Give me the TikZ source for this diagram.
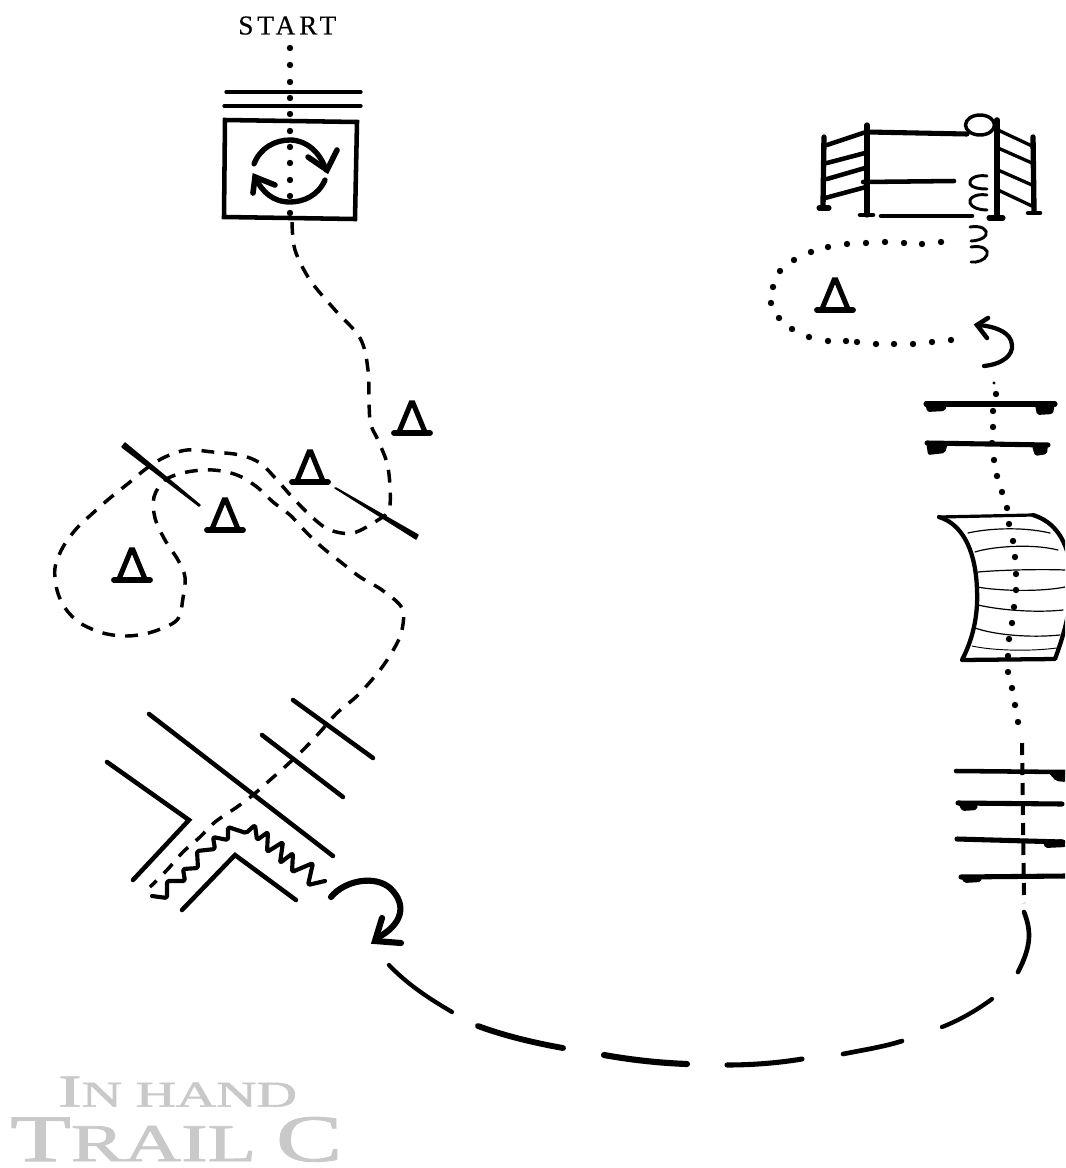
\documentclass[tikz,border=0pt]{standalone}
\usepackage{graphicx}
\usepackage{fontspec}
\setmainfont{Liberation Serif}
\newfontfamily\startfont[LetterSpace=14,FakeBold=.3]{Liberation Serif}
\newfontfamily\titlefont[FakeBold=1.4]{Liberation Serif}
\definecolor{titlegray}{HTML}{C9C9C9}
\tikzset{
  ink/.style={draw=black,line cap=round,line join=round},
  thin bar/.style={ink,line width=2.5pt},
  mid bar/.style={ink,line width=3.4pt},
  heavy bar/.style={ink,line width=3.8pt},
  trail/.style={draw=black,line width=2.6pt,dash pattern=on 9.6pt off 7.6pt},
  sweep/.style={ink,line width=4.6pt},
  plank/.style={ink,line width=.9pt},
  blob/.style={fill=black,rounded corners=1.5pt},
  trailcone/.pic={
    \draw[ink,line width=4.4pt] (-18,0) -- (18,0);
    \draw[ink,line width=3.8pt,line join=miter] (-13,-1) -- (-1,-30) -- (1,-30) -- (13,-1);
  }
}
\newcommand{\dotrun}[1]{\foreach \p in {#1} {\fill[black] \p circle[radius=3.2];}}
\begin{document}
\begin{tikzpicture}[x=.75pt,y=-.75pt]
\useasboundingbox (0,0) rectangle (1065,1168);
\clip (0,0) rectangle (1065,1168);

% title texts
\node[anchor=south west,inner sep=0pt] (starttext) at (238,35) {\startfont\fontsize{20.5pt}{21pt}\selectfont START};
\node[anchor=south west,inner sep=0pt,text=titlegray] (inhand) at (58,1107)
  {\resizebox{179pt}{22.5pt}{\titlefont\fontsize{34pt}{36pt}\selectfont I\fontsize{27pt}{30pt}\selectfont N HAND}};
\node[anchor=south west,inner sep=0pt,text=titlegray] (trailc) at (10,1162)
  {\resizebox{249pt}{33pt}{\titlefont\fontsize{50pt}{52pt}\selectfont T\fontsize{40pt}{44pt}\selectfont RAIL \fontsize{50pt}{52pt}\selectfont C}};

% start box
\draw[thin bar] (226,92) -- (361,92);
\draw[thin bar] (224,106) -- (361,106);
\draw[mid bar,line join=miter] (225,120) -- (357,122) -- (355,219) -- (224,217) -- cycle;
\draw[ink,line width=4pt] (254,164) .. controls (260,148) and (275,140) .. (290,140) .. controls (306,140) and (320,152) .. (326,170);
\draw[ink,line width=4.2pt,line join=miter] (308,157) -- (327,170) -- (337,150);
\draw[ink,line width=4pt] (325,180) .. controls (318,196) and (303,202) .. (290,202) .. controls (273,202) and (262,192) .. (255,177);
\draw[ink,line width=4.2pt,line join=miter] (275,185) -- (255,177) -- (253,193);
\dotrun{(290,48),(290,65),(290,82),(290,98),(290,114),(290,131),(290,147),(290,163),(290,180),(290,196),(290,213)}

% trail from start through the cones
\draw[trail] plot[smooth,tension=.55] coordinates {
 (292,222) (295,250) (310,280) (335,310) (360,338) (368,370) (370,420) (378,440) (387,463) (390,487) (389,510)
 (378,520) (353,533) (330,530) (313,518) (293,498) (277,480) (260,463) (240,455) (213,452) (187,450) (165,457)
 (147,468) (130,482) (110,498) (93,513) (77,528) (63,547) (55,568) (57,590) (65,608) (80,623) (103,633) (127,636)
 (152,632) (177,620) (183,598) (185,577) (178,560) (165,540) (155,518) (154,497) (165,480) (187,472) (213,470)
 (237,475) (257,487) (273,502) (290,515) (307,533) (323,548) (342,563) (360,577) (382,590) (402,608) (402,630)
 (395,647) (380,670) (358,695) (337,713) (320,732) (303,750) (287,765) (270,780) (253,795) (237,807) (215,822)
 (200,837) (183,852) (167,870) (150,887)};

% cones
\pic at (412,433) {trailcone};
\pic at (310,482) {trailcone};
\pic at (225,530) {trailcone};
\pic at (132,580) {trailcone};
\pic at (835,310) {trailcone};

% slanted gate rails by the cones
\draw[ink,line width=1.1pt,fill=black] (122,447) -- (125,443) -- (200,505) -- (199,506) -- cycle;
\draw[ink,line width=1.1pt,fill=black] (335,488) -- (336,488) -- (418,535) -- (416,539) -- cycle;

% poles and chute
\draw[mid bar] (293,700) -- (373,758);
\draw[mid bar] (262,735) -- (343,797);
\draw[mid bar] (149,714) -- (333,856);
\draw[mid bar,line join=miter] (107,762) -- (189,820) -- (133,880);
\draw[mid bar,line join=miter] (182,910) -- (235,855) -- (296,900);
\draw[ink,line width=3.1pt,rounded corners=1.2pt] (152,896) -- (167,898) -- (167,881) -- (185,881) -- (183,869) -- (198,868)
 -- (197,851) -- (215,849) -- (213,837) -- (228,840) -- (228,827) -- (246,833) -- (255,825) -- (257,840) -- (268,832)
 -- (267,852) -- (283,842) -- (280,863) -- (293,853) -- (292,872) -- (313,863) -- (308,885) -- (325,881);

% turning arrow
\draw[sweep] (331,897) .. controls (345,880) and (375,875) .. (390,888) .. controls (408,905) and (402,925) .. (377,938);
\draw[sweep,line join=miter] (382,918) -- (375,941) -- (401,943);

% long sweeping dashes
\draw[ink,line width=3.2pt] (389,965) .. controls (408,985) and (430,999) .. (452,1012);
\draw[ink,line width=4.4pt] (478,1026) .. controls (505,1036) and (535,1043) .. (563,1048);
\draw[ink,line width=4.6pt] (604,1055) .. controls (632,1060) and (660,1063) .. (687,1064);
\draw[ink,line width=3.8pt] (727,1065) .. controls (752,1065) and (778,1063) .. (802,1059);
\draw[ink,line width=3.5pt] (843,1054) .. controls (863,1050) and (883,1047) .. (902,1041);
\draw[ink,line width=3.2pt] (942,1027) .. controls (960,1020) and (977,1010) .. (992,999);
\draw[ink,line width=3.5pt] (1024,912) .. controls (1031,930) and (1032,945) .. (1018,972);

% right hand rails with dashes
\draw[trail,line width=3pt,dash pattern=on 9pt off 6pt] (1022,743) -- (1024,903);
\draw[mid bar] (956,771) -- (1065,772);
\fill[blob] (1047,771) -- (1066,770) -- (1066,782) -- (1056,781) -- cycle;
\draw[heavy bar] (958,803) -- (1062,804);
\fill[blob] (957,801) -- (978,801) -- (977,810) -- (962,811) -- cycle;
\draw[heavy bar] (957,839) -- (1063,842);
\fill[blob] (1043,841) -- (1063,839) -- (1066,847) -- (1045,848) -- cycle;
\draw[heavy bar] (961,877) -- (1065,876);
\fill[blob] (960,875) -- (982,875) -- (981,882) -- (964,883) -- cycle;

% hurdles on the dotted trail
\draw[heavy bar] (926,404) -- (1055,404);
\fill[blob] (925,401) -- (948,401) -- (945,411) -- (927,412) -- cycle;
\fill[blob] (1035,405) -- (1055,403) -- (1053,414) -- (1037,415) -- cycle;
\draw[heavy bar] (927,443) -- (1048,445);
\fill[blob] (926,441) -- (948,443) -- (945,453) -- (928,455) -- cycle;
\fill[blob] (1032,446) -- (1048,444) -- (1047,454) -- (1035,456) -- cycle;

% bridge
\draw[plank] (968,533) .. controls (985,529) and (1020,526) .. (1050,533);
\draw[plank] (975,552) .. controls (990,547) and (1030,543) .. (1058,550);
\draw[plank] (978,572) .. controls (1000,570) and (1040,569) .. (1065,570);
\draw[plank] (977,587) .. controls (1000,591) and (1040,592) .. (1065,587);
\draw[plank] (978,605) .. controls (1000,610) and (1035,613) .. (1063,610);
\draw[plank] (975,628) .. controls (995,635) and (1030,638) .. (1060,635);
\draw[plank,line width=.7pt] (972,646) .. controls (990,650) and (1025,652) .. (1057,648);
\draw[ink,line width=2.4pt] (939,517) -- (1033,515);
\draw[ink,line width=3.2pt] (1033,515) .. controls (1055,522) and (1068,540) .. (1072,575) .. controls (1072,610) and (1062,640) .. (1055,659) -- (962,660) .. controls (975,635) and (978,610) .. (977,590) .. controls (976,555) and (965,525) .. (939,517);
\dotrun{(996,394),(993,411),(993,427),(992,443),(994,460),(997,476),(1002,492),(1007,508),(1009,524),(1013,541),(1015,557),(1016,574),(1016,590),(1014,607),(1012,623),(1009,639),(1008,656),(1008,672),(1012,688),(1015,705),(1018,722)}
\fill[black] (994,383) circle[radius=1.6];

% top right fence
\draw[ink,line width=4pt] (824,137) -- (823,207);
\draw[ink,line width=4pt] (867,125) -- (867,215);
\draw[ink,line width=4.2pt] (997,120) -- (997,217);
\draw[ink,line width=4pt] (1033,137) -- (1034,212);
\draw[heavy bar] (819,208) -- (829,208);
\draw[mid bar] (860,215) -- (873,215);
\draw[heavy bar] (989,218) -- (1003,218);
\draw[mid bar] (1028,213) -- (1040,213);
\draw[mid bar] (827,145) -- (866,132);
\draw[mid bar] (827,163) -- (865,153);
\draw[mid bar] (827,179) -- (865,168);
\draw[mid bar] (825,198) -- (866,187);
\draw[thin bar] (998,130) -- (1032,146);
\draw[thin bar] (998,148) -- (1032,163);
\draw[thin bar] (998,170) -- (1032,185);
\draw[thin bar] (998,190) -- (1032,206);
\draw[heavy bar] (868,132) -- (967,134);
\draw[mid bar] (863,182) -- (954,181);
\draw[mid bar] (881,216) -- (972,216);
\draw[ink,line width=2.6pt] (980,125) ellipse[x radius=14.5,y radius=10];
\draw[ink,line width=2.2pt] (987,176) .. controls (975,174) and (968,180) .. (970,184) .. controls (972,188) and (980,189) .. (987,189);
\draw[ink,line width=2.2pt] (987,195) .. controls (975,193) and (968,199) .. (970,203) .. controls (972,208) and (980,210) .. (987,210);
\draw[ink,line width=2.2pt] (970,227) .. controls (982,225) and (988,230) .. (986,235) .. controls (984,239) and (976,241) .. (971,241);
\draw[ink,line width=2.2pt] (971,247) .. controls (983,245) and (989,250) .. (987,255) .. controls (985,260) and (977,263) .. (971,262);
\dotrun{(941,242),(922,244),(904,243),(885,242),(866,243),(847,244),(828,247),(811,252),(794,260),(780,271),(773,287),(771,303),(779,318),(792,329),(809,337),(828,341),(846,341),(857,342),(876,344),(894,344),(913,344),(932,342),(951,340)}

% small return arrow
\draw[ink,line width=3.2pt] (984,366) .. controls (1003,364) and (1013,355) .. (1012,345) .. controls (1011,333) and (998,327) .. (979,325);
\draw[ink,line width=3.4pt,line join=miter] (988,318) -- (977,325) -- (987,338);
\end{tikzpicture}
\end{document}
